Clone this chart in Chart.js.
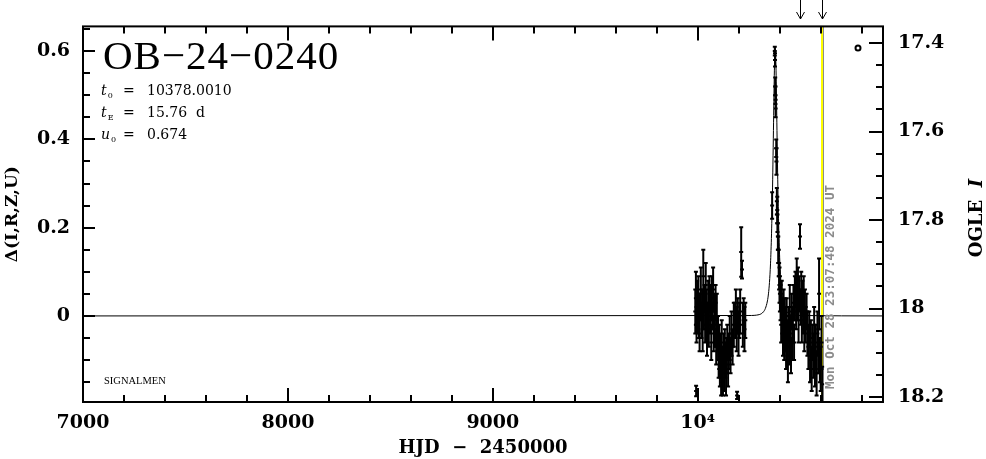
<!DOCTYPE html>
<html>
<head>
<meta charset="utf-8">
<script src="https://cdn.jsdelivr.net/npm/chart.js@4.4.0/dist/chart.umd.min.js"></script>
<style>
html, body { margin: 0; padding: 0; background: #fff; }
#wrap { width: 986px; height: 459px; }
</style>
</head>
<body>
<div id="wrap"><canvas id="lc" width="986" height="459"></canvas></div>
<script>
// observations: HJD-2450000, delta mag, error
const obsT = [
    9988, 9991, 9992, 9994, 9997, 10000, 10003, 10006, 10009, 10012,
    10015, 10018, 10021, 10024, 10027, 10030, 10033, 10036, 10039, 10042,
    10045, 10048, 10051, 10054, 10057, 10060, 10063, 10066, 10069, 10072,
    10075, 10078, 10081, 10084, 10087, 10090, 10093, 10096, 10099, 10102,
    10105, 10108, 10111, 10114, 10117, 10120, 10123, 10126, 10129, 10132,
    10135, 10138, 10141, 10144, 10148, 10152, 10156, 10160, 10165, 10170,
    10176, 10182, 10186, 10190, 10192, 10195, 10199, 10203, 10207, 10212,
    10216, 10220, 10224, 10228, 10232,
    10363, 10376, 10377, 10378, 10379, 10380, 10383, 10384, 10386, 10388,
    10389, 10391, 10393, 10395, 10397, 10399, 10401,
    10404, 10407, 10410, 10413, 10416, 10419, 10422, 10425, 10428, 10431,
    10434, 10437, 10440, 10443, 10446, 10449, 10452, 10455, 10458, 10461,
    10464, 10467, 10470, 10474, 10477, 10480, 10483, 10486, 10489, 10492,
    10495, 10499, 10502, 10505, 10508, 10511, 10514, 10517, 10520, 10523,
    10527, 10531, 10535, 10540, 10544, 10548, 10552, 10556, 10560, 10564,
    10568, 10572, 10576, 10580, 10584, 10588, 10592, 10596, 10600, 10604,
    10607
];
const obsD = [
    0.01, 0.04, -0.17, -0.02, 0.03, -0.01, 0.05, 0.00, -0.04, 0.02,
    0.06, -0.01, 0.03, -0.03, 0.09, 0.01, 0.04, -0.02, 0.07, 0.02,
    -0.05, 0.00, 0.03, -0.03, 0.05, -0.01, 0.02, -0.06, 0.04, 0.00,
    0.06, -0.04, 0.01, -0.02, 0.03, -0.07, 0.00, -0.04, -0.05, -0.10,
    -0.07, -0.12, -0.09, -0.14, -0.06, -0.11, -0.13, -0.08, -0.12, -0.07,
    -0.10, -0.13, -0.09, -0.06, -0.11, -0.08, -0.05, -0.09, -0.04, -0.07,
    -0.02, -0.01, 0.02, -0.03, -0.18, 0.00, -0.04, -0.01, 0.01, 0.145,
    0.105, -0.02, 0.00, -0.03, -0.01,
    0.25, 0.60, 0.58, 0.52, 0.50, 0.47, 0.38, 0.35, 0.26, 0.24,
    0.21, 0.18, 0.15, 0.12, 0.09, 0.07, 0.05,
    0.03, -0.02, 0.05, 0.00, -0.04, 0.02, -0.06, 0.01, -0.03, -0.08,
    0.00, -0.05, -0.10, -0.02, -0.07, 0.02, -0.04, -0.09, 0.01, -0.05,
    -0.02, 0.03, -0.06, 0.04, 0.06, 0.01, 0.08, 0.03, 0.07, -0.01,
    0.05, 0.18, 0.02, 0.06, -0.01, 0.04, 0.00, 0.05, -0.03, 0.02,
    -0.02, 0.01, -0.04, -0.07, -0.03, -0.10, -0.05, -0.12, -0.06, -0.09,
    -0.02, -0.11, -0.07, -0.13, -0.04, -0.08, 0.05, -0.10, -0.12, -0.06,
    -0.155
];
const obsE = [
    0.05, 0.06, 0.012, 0.04, 0.05, 0.03, 0.04, 0.05, 0.04, 0.03,
    0.05, 0.04, 0.03, 0.05, 0.06, 0.04, 0.03, 0.04, 0.05, 0.04,
    0.04, 0.03, 0.05, 0.04, 0.04, 0.03, 0.05, 0.04, 0.05, 0.03,
    0.05, 0.04, 0.04, 0.05, 0.04, 0.04, 0.05, 0.04, 0.05, 0.04,
    0.05, 0.04, 0.05, 0.04, 0.05, 0.04, 0.05, 0.04, 0.05, 0.04,
    0.04, 0.05, 0.04, 0.04, 0.05, 0.04, 0.05, 0.04, 0.05, 0.04,
    0.05, 0.04, 0.04, 0.05, 0.008, 0.04, 0.05, 0.04, 0.05, 0.056,
    0.02, 0.05, 0.04, 0.05, 0.04,
    0.03, 0.01, 0.015, 0.02, 0.02, 0.02, 0.02, 0.03, 0.03, 0.03,
    0.02, 0.03, 0.03, 0.03, 0.03, 0.04, 0.04,
    0.04, 0.04, 0.03, 0.04, 0.05, 0.04, 0.04, 0.03, 0.05, 0.04,
    0.04, 0.04, 0.05, 0.04, 0.04, 0.05, 0.04, 0.04, 0.04, 0.05,
    0.04, 0.04, 0.04, 0.05, 0.04, 0.04, 0.05, 0.04, 0.04, 0.05,
    0.04, 0.028, 0.04, 0.04, 0.05, 0.04, 0.04, 0.04, 0.05, 0.04,
    0.04, 0.04, 0.05, 0.05, 0.04, 0.05, 0.04, 0.05, 0.04, 0.05,
    0.04, 0.05, 0.05, 0.05, 0.05, 0.05, 0.08, 0.05, 0.05, 0.06,
    0.04
];

// microlensing model curve
const modelT = [7000, 10250, 10300, 10320, 10330, 10340, 10345, 10350, 10355, 10360,
    10365, 10370, 10374, 10378, 10382, 10386, 10391, 10396, 10401, 10406,
    10411, 10416, 10426, 10436, 10456, 10500, 10904];
const modelD = [0, 0.001, 0.003, 0.009, 0.017, 0.034, 0.050, 0.076, 0.118, 0.186,
    0.292, 0.439, 0.557, 0.61, 0.557, 0.439, 0.292, 0.186, 0.118, 0.076,
    0.050, 0.034, 0.017, 0.009, 0.003, 0.001, 0];

const markT = [10782];
const markD = [0.607];

const arrowT = [10500, 10607];
const nowT = 10607;
const nowLabel = 'Mon Oct 28 23:07:48 2024 UT';

const xTicks = [7000, 8000, 9000, 10000];
const xTickLabels = ['7000', '8000', '9000', '10⁴'];
const dTicks = [0, 0.2, 0.4, 0.6];
const dTickLabels = ['0', '0.2', '0.4', '0.6'];
const magTicks = [17.4, 17.6, 17.8, 18, 18.2];
const magTickLabels = ['17.4', '17.6', '17.8', '18', '18.2'];

const xRange = [7000, 10904];
const dRange = [-0.195, 0.656];
const magRange = [17.3624, 18.2113];

const tickFont = { family: '"DejaVu Serif"', size: 19, weight: 'bold' };

const lcDecor = {
    id: 'lcDecor',
    beforeDatasetsDraw(chart) {
        const { ctx, chartArea: a, scales: { x } } = chart;
        const px = Math.round(x.getPixelForValue(nowT));
        ctx.save();
        ctx.strokeStyle = '#8c8c8c';
        ctx.lineWidth = 1;
        ctx.beginPath();
        ctx.moveTo(px + 1.5, a.top);
        ctx.lineTo(px + 1.5, a.bottom);
        ctx.stroke();
        ctx.strokeStyle = '#ffff00';
        ctx.lineWidth = 2;
        ctx.beginPath();
        ctx.moveTo(px, a.top);
        ctx.lineTo(px, a.bottom);
        ctx.stroke();
        ctx.restore();
    },
    afterDatasetsDraw(chart) {
        const { ctx, chartArea: a, scales: { y } } = chart;
        const meta = chart.getDatasetMeta(0);
        ctx.save();
        ctx.beginPath();
        ctx.rect(a.left, a.top, a.right - a.left, a.bottom - a.top);
        ctx.clip();
        ctx.strokeStyle = '#000';
        ctx.lineWidth = 2;
        meta.data.forEach((pt, i) => {
            const top = y.getPixelForValue(obsD[i] + obsE[i]);
            const bot = y.getPixelForValue(obsD[i] - obsE[i]);
            ctx.beginPath();
            ctx.moveTo(pt.x, top);
            ctx.lineTo(pt.x, bot);
            ctx.moveTo(pt.x - 2, top);
            ctx.lineTo(pt.x + 2, top);
            ctx.moveTo(pt.x - 2, bot);
            ctx.lineTo(pt.x + 2, bot);
            ctx.stroke();
        });
        ctx.restore();
    },
    afterDraw(chart) {
        const { ctx, chartArea: a, scales: { x, y, mag } } = chart;
        ctx.save();
        ctx.strokeStyle = '#000';
        ctx.lineWidth = 2;

        // frame
        ctx.strokeRect(a.left, a.top, a.right - a.left, a.bottom - a.top);

        // inward ticks
        ctx.beginPath();
        for (let v = xRange[0]; v <= xRange[1]; v += 200) {
            const px = Math.round(x.getPixelForValue(v));
            const len = v % 1000 === 0 ? 14 : 7;
            ctx.moveTo(px, a.bottom); ctx.lineTo(px, a.bottom - len);
            ctx.moveTo(px, a.top); ctx.lineTo(px, a.top + len);
        }
        for (let k = Math.ceil(dRange[0] / 0.05); k <= Math.floor(dRange[1] / 0.05); k++) {
            const py = Math.round(y.getPixelForValue(k * 0.05));
            const len = k % 4 === 0 ? 12 : 7;
            ctx.moveTo(a.left, py); ctx.lineTo(a.left + len, py);
        }
        for (let k = Math.ceil(magRange[0] / 0.05); k <= Math.floor(magRange[1] / 0.05); k++) {
            const py = Math.round(mag.getPixelForValue(k * 0.05));
            const len = k % 4 === 0 ? 14 : 7;
            ctx.moveTo(a.right, py); ctx.lineTo(a.right - len, py);
        }
        ctx.stroke();

        // alert arrows above the frame
        ctx.lineWidth = 1;
        ctx.beginPath();
        arrowT.forEach(t => {
            const px = Math.round(x.getPixelForValue(t)) + 0.5;
            ctx.moveTo(px, 0); ctx.lineTo(px, 19);
            ctx.moveTo(px - 4, 12); ctx.lineTo(px, 19); ctx.lineTo(px + 4, 12);
        });
        ctx.stroke();

        ctx.fillStyle = '#000';
        ctx.textBaseline = 'alphabetic';
        ctx.textAlign = 'left';

        // event name and parameters
        ctx.font = '41px "Liberation Serif"';
        ctx.letterSpacing = '1px';
        ctx.fillText('OB−24−0240', a.left + 20, a.top + 43);
        ctx.letterSpacing = '0px';

        const params = [['t', '0', '10378.0010'], ['t', 'E', '15.76  d'], ['u', '0', '0.674']];
        params.forEach((p, i) => {
            const base = a.top + 69 + i * 22;
            ctx.font = 'italic 14px "DejaVu Serif"';
            ctx.fillText(p[0], a.left + 18, base);
            const w = ctx.measureText(p[0]).width;
            ctx.font = '8px "DejaVu Serif"';
            ctx.fillText(p[1], a.left + 18 + w + 1, base + 3);
            ctx.font = '14px "DejaVu Serif"';
            ctx.fillText('=', a.left + 40, base);
            ctx.fillText(p[2], a.left + 64, base);
        });

        ctx.font = '10.5px "Liberation Serif"';
        ctx.fillText('SIGNALMEN', a.left + 21, a.bottom - 18);

        // right axis title
        ctx.save();
        ctx.translate(977, 218);
        ctx.rotate(-Math.PI / 2);
        ctx.font = 'bold 18px "DejaVu Serif"';
        const w1 = ctx.measureText('OGLE  ').width;
        ctx.font = 'bold italic 18px "DejaVu Serif"';
        const w2 = ctx.measureText('I').width;
        ctx.textBaseline = 'middle';
        ctx.font = 'bold 18px "DejaVu Serif"';
        ctx.fillText('OGLE  ', -(w1 + w2) / 2, 0);
        ctx.font = 'bold italic 18px "DejaVu Serif"';
        ctx.fillText('I', -(w1 + w2) / 2 + w1, 0);
        ctx.restore();

        // timestamp along the "now" line
        ctx.save();
        const nx = Math.round(x.getPixelForValue(nowT));
        ctx.translate(nx + 9, 287);
        ctx.rotate(-Math.PI / 2);
        ctx.font = 'bold 13px "DejaVu Sans Mono"';
        ctx.fillStyle = '#8c8c8c';
        ctx.textAlign = 'center';
        ctx.textBaseline = 'middle';
        ctx.fillText(nowLabel, 0, 0, 204);
        ctx.restore();

        ctx.restore();
    }
};

new Chart(document.getElementById('lc'), {
    data: {
        datasets: [{
            type: 'scatter',
            label: 'OGLE',
            data: obsT.map((t, i) => ({ x: t, y: obsD[i] })),
            pointStyle: 'line',
            pointRadius: 2,
            borderWidth: 2,
            borderColor: '#000',
            yAxisID: 'y'
        }, {
            type: 'line',
            label: 'model',
            data: modelT.map((t, i) => ({ x: t, y: modelD[i] })),
            borderColor: '#000',
            borderWidth: 1,
            pointRadius: 0,
            cubicInterpolationMode: 'monotone',
            fill: false,
            yAxisID: 'y'
        }, {
            type: 'scatter',
            label: 'mark',
            data: markT.map((t, i) => ({ x: t, y: markD[i] })),
            pointStyle: 'circle',
            pointRadius: 2.5,
            borderWidth: 2,
            borderColor: '#000',
            backgroundColor: '#fff',
            yAxisID: 'y'
        }]
    },
    options: {
        responsive: false,
        animation: false,
        devicePixelRatio: 1,
        layout: { padding: { top: 25, left: 0, right: 0, bottom: 0 } },
        plugins: { legend: { display: false }, tooltip: { enabled: false } },
        scales: {
            x: {
                type: 'linear',
                position: 'bottom',
                min: xRange[0],
                max: xRange[1],
                afterBuildTicks: s => { s.ticks = xTicks.map(v => ({ value: v })); },
                afterFit: s => { s.height = 57; },
                ticks: {
                    callback: (v, i) => xTickLabels[i],
                    font: tickFont,
                    color: '#000',
                    padding: 10,
                    maxRotation: 0,
                    autoSkip: false
                },
                grid: { display: false, drawTicks: false },
                border: { display: false },
                title: {
                    display: true,
                    text: 'HJD  −  2450000',
                    color: '#000',
                    font: { family: '"DejaVu Serif"', size: 18, weight: 'bold' },
                    padding: { top: 0, bottom: 0 }
                }
            },
            y: {
                type: 'linear',
                position: 'left',
                min: dRange[0],
                max: dRange[1],
                afterBuildTicks: s => { s.ticks = dTicks.map(v => ({ value: v })); },
                afterFit: s => { s.width = 83; },
                ticks: {
                    callback: (v, i) => dTickLabels[i],
                    font: tickFont,
                    color: '#000',
                    padding: 13,
                    autoSkip: false
                },
                grid: { display: false, drawTicks: false },
                border: { display: false },
                title: {
                    display: true,
                    text: 'Δ(I,R,Z,U)',
                    color: '#000',
                    font: { family: '"DejaVu Serif"', size: 17, weight: 'bold' },
                    padding: { top: 2, bottom: 0 }
                }
            },
            mag: {
                type: 'linear',
                position: 'right',
                reverse: true,
                min: magRange[0],
                max: magRange[1],
                afterBuildTicks: s => { s.ticks = magTicks.map(v => ({ value: v })); },
                afterFit: s => { s.width = 103; },
                ticks: {
                    callback: (v, i) => magTickLabels[i],
                    font: tickFont,
                    color: '#000',
                    padding: 15,
                    autoSkip: false
                },
                grid: { display: false, drawTicks: false },
                border: { display: false }
            }
        }
    },
    plugins: [lcDecor]
});
</script>
</body>
</html>
